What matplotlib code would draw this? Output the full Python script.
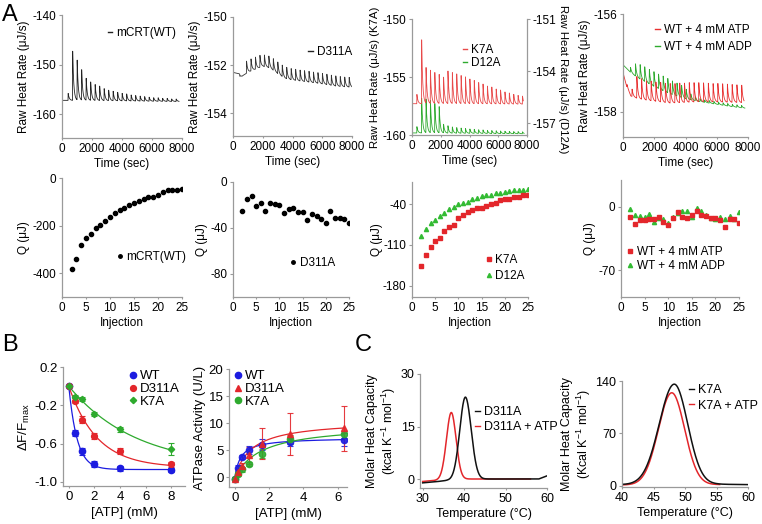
import numpy as np
import matplotlib
matplotlib.use("Agg")
import matplotlib.pyplot as plt
from matplotlib.lines import Line2D

plt.rcParams['font.family'] = ['Liberation Sans', 'DejaVu Sans']
plt.rcParams['mathtext.default'] = 'regular'
plt.rcParams['axes.unicode_minus'] = False

FIG_W, FIG_H = 762, 524

BLUE = '#1c1ce0'
RED = '#e3262b'
GREEN = '#2eaa2e'
SPINE = '#9a9a9a'

# ---------- Panel A, row 1: raw ITC traces ----------
WT_INJ_T = [400, 700, 1000, 1300, 1600, 1900, 2200, 2500, 2800, 3100, 3400, 3700, 4000,
            4300, 4600, 4900, 5200, 5500, 5800, 6100, 6400, 6700, 7000, 7300, 7600]
WT_PEAK_H = [1.4, 9.9, 8.0, 6.1, 4.4, 3.7, 3.2, 2.9, 2.4, 2.1, 1.9, 1.7, 1.5,
             1.4, 1.2, 1.1, 1.0, 0.9, 0.8, 0.7, 0.7, 0.6, 0.6, 0.5, 0.5]
WT_BASE_T = [0, 8000]
WT_BASE_V = [-157.2, -157.45]

D311A_INJ_T = [450, 900, 1200, 1500, 1800, 2100, 2400, 2700, 3000, 3300, 3600, 3900, 4200,
               4500, 4800, 5100, 5400, 5700, 6000, 6300, 6600, 6900, 7200, 7500, 7800]
D311A_PEAK_H = [-0.08, 0.5, 0.5, 0.5, 0.5, 0.48, 0.48, 0.48, 0.48, 0.47, 0.47, 0.46, 0.46,
                0.45, 0.45, 0.45, 0.44, 0.44, 0.43, 0.43, 0.42, 0.42, 0.41, 0.4, 0.4]
D311A_BASE_T = [0, 400, 600, 1000, 2000, 2500, 3000, 3500, 4000, 5000, 6000, 7000, 8000]
D311A_BASE_V = [-152.3, -152.35, -152.45, -152.3, -152.05, -152.12, -152.35, -152.55,
                -152.62, -152.7, -152.78, -152.88, -152.92]

K7A_INJ_T = [330, 660, 965, 1270, 1575, 1880, 2185, 2490, 2795, 3100, 3405, 3710, 4015,
             4320, 4625, 4930, 5235, 5540, 5845, 6150, 6455, 6760, 7065, 7370, 7675]
K7A_PEAK_H = [0.8, 5.5, 3.1, 2.85, 2.7, 2.5, 2.3, 2.8, 2.7, 2.55, 2.45, 2.3, 2.15,
              2.0, 1.85, 1.7, 1.55, 1.45, 1.3, 1.2, 1.05, 0.95, 0.85, 0.75, 0.7]
K7A_BASE_T = [0, 8000]
K7A_BASE_V = [-157.3, -157.35]

D12A_PEAK_H = [0.36, 2.0, 1.95, 1.85, 1.7, 1.5, 0.5, 0.42, 0.36, 0.32, 0.3, 0.27, 0.25,
               0.23, 0.21, 0.2, 0.18, 0.17, 0.16, 0.15, 0.14, 0.13, 0.12, 0.12, 0.11]
D12A_BASE_T = [0, 8000]
D12A_BASE_V = [-157.55, -157.6]

ATP_INJ_T = [250, 570, 875, 1180, 1485, 1790, 2095, 2400, 2705, 3010, 3315, 3620, 3925,
             4230, 4535, 4840, 5145, 5450, 5755, 6060, 6365, 6670, 6975, 7280, 7585]
ATP_PEAK_H = [0.05, 0.15, 0.45, 0.42, 0.4, 0.4, 0.4, 0.4, 0.4, 0.4, 0.4, 0.4, 0.4,
              0.4, 0.4, 0.39, 0.39, 0.38, 0.38, 0.38, 0.38, 0.37, 0.37, 0.36, 0.36]
ATP_BASE_T = [0, 200, 500, 1000, 1500, 3000, 5000, 7800]
ATP_BASE_V = [-157.2, -157.45, -157.68, -157.74, -157.77, -157.83, -157.8, -157.82]

ADP_INJ_T = [470, 790, 1085, 1380, 1675, 1970, 2265, 2560, 2855, 3150, 3445, 3740, 4035,
             4330, 4625, 4920, 5215, 5510, 5805, 6100, 6395, 6690, 6985, 7280, 7575]
ADP_PEAK_H = [0.1, 0.25, 0.3, 0.3, 0.3, 0.3, 0.3, 0.3, 0.3, 0.28, 0.27, 0.25, 0.2,
              0.12, 0.08, 0.06, 0.05, 0.05, 0.05, 0.05, 0.05, 0.05, 0.05, 0.05, 0.05]
ADP_BASE_T = [0, 500, 1000, 2000, 3000, 4000, 5000, 6000, 7000, 7800]
ADP_BASE_V = [-157.04, -157.2, -157.32, -157.49, -157.64, -157.74, -157.8, -157.85,
              -157.9, -157.93]

# ---------- Panel A, row 2: integrated heats ----------
INJ = list(range(2, 26))
Q_WT = [-382, -341, -281, -250, -234, -212, -197, -182, -164, -147, -136, -124,
        -112, -105, -97, -88, -81, -81, -73, -60, -49, -49, -52, -46]
Q_D311A = [-25.3, -14.5, -12.5, -21.2, -18.0, -25.3, -18.3, -19.5, -20.0, -26.7, -23.8, -22.4,
           -26.2, -26.2, -33.4, -27.6, -29.7, -32.6, -36.0, -25.3, -31.1, -31.4, -32.0, -36.0]
Q_K7A = [-147, -128, -113.4, -103, -97.4, -86, -78.4, -75.6, -64, -58.4, -53.8, -49.8,
         -45.7, -45.7, -42.3, -40, -37, -32.5, -30.2, -31.4, -26.8, -28, -23.4, -23.4]
Q_D12A = [-95, -83, -72, -66.4, -59.5, -55, -48.6, -44, -39.4, -38.3, -35.4, -31.4,
          -29.7, -25.7, -23.4, -23.4, -21, -21, -18.8, -17.6, -15.3, -15.3, -14.8, -13.6]
Q_ATP = [-11, -19, -14.7, -14.7, -14, -13.6, -11.8, -17.3, -20.3, -12.2, -6.3, -11,
         -12.9, -9.2, -4.4, -9.2, -9.9, -12.2, -12.9, -14.7, -22, -14, -14, -18.4]
Q_ADP = [-3, -9.2, -10, -11.8, -8.1, -16.6, -12.9, -14, -18, -11.8, -7, -4.4,
         -4.4, -11, -1.1, -4.8, -9, -12, -13, -11.8, -13.6, -10.3, -14, -5.5]

# ---------- Panel B: fluorescence quench and ATPase activity ----------
ATP_F = [0, 0.5, 1, 2, 4, 8]
DF_WT = [0, -0.487, -0.68, -0.81, -0.856, -0.873]
DF_WT_ERR = [0.01, 0.03, 0.035, 0.03, 0.025, 0.02]
DF_D311A = [0, -0.15, -0.348, -0.52, -0.678, -0.817]
DF_D311A_ERR = [0.01, 0.03, 0.035, 0.03, 0.03, 0.025]
DF_K7A = [0, -0.108, -0.136, -0.289, -0.452, -0.657]
DF_K7A_ERR = [0.01, 0.02, 0.02, 0.02, 0.03, 0.06]
# fitted single-exponential: amplitude, constant (mM)
DF_FIT = {'WT': (0.87, 0.65), 'D311A': (0.85, 2.2), 'K7A': (0.85, 5.2)}

ATP_A = [0, 0.2, 0.4, 0.8, 1.6, 3.2, 6.4]
ACT_WT = [-0.3, 1.7, 3.7, 4.97, 6.0, 6.5, 6.9]
ACT_WT_ERR = [0.3, 0.5, 0.4, 0.8, 1.0, 0.8, 1.2]
ACT_D311A = [-0.3, 0.93, 2.05, 4.0, 6.2, 8.0, 9.0]
ACT_D311A_ERR = [0.3, 0.5, 0.6, 1.5, 2.8, 3.9, 4.2]
ACT_K7A = [-0.3, 0.5, 1.43, 2.36, 4.35, 6.96, 7.9]
ACT_K7A_ERR = [0.3, 0.4, 0.5, 0.4, 0.8, 0.8, 0.6]
# Michaelis-Menten fits: Vmax (U/L), Km (mM)
ACT_FIT = {'WT': (7.3, 0.35), 'D311A': (10.5, 1.0), 'K7A': (9.8, 1.6)}

# ---------- Panel C: DSC ----------
# peak: Tm, height, sigma left, sigma right; baseline anchors; temperature range
DSC_D311A = dict(tm=40.3, h=23.6, sl=1.35, sr=1.4, bt=[30, 33, 36, 45, 58, 60],
                 bv=[-1.1, -0.8, -0.4, 0, 0, 0.9], rng=(30, 60))
DSC_D311A_ATP = dict(tm=36.9, h=19.0, sl=1.15, sr=1.15, bt=[30, 33, 35, 42, 56],
                     bv=[-0.7, -0.4, 0, 0, 0], rng=(30, 56))
DSC_K7A = dict(tm=48.3, h=134.0, sl=2.38, sr=2.12, bt=[40, 55, 60],
               bv=[1.5, 2.0, 1.5], rng=(40, 60))
DSC_K7A_ATP = dict(tm=47.9, h=123.0, sl=2.12, sr=2.04, bt=[40, 55.5],
                   bv=[1.0, 1.5], rng=(40, 55.5))


# ---------- helpers ----------

def add_ax(fig, x0, y0, x1, y1):
    return fig.add_axes([x0 / FIG_W, 1 - y1 / FIG_H, (x1 - x0) / FIG_W, (y1 - y0) / FIG_H])


def style(ax, fs):
    for s in ('top', 'right'):
        ax.spines[s].set_visible(False)
    for s in ('left', 'bottom'):
        ax.spines[s].set_color(SPINE)
        ax.spines[s].set_linewidth(0.9)
    ax.tick_params(axis='y', length=2.5, width=0.8, color=SPINE, labelsize=fs, pad=1.5)
    ax.tick_params(axis='x', length=1.5, width=0.8, color=SPINE, labelsize=fs, pad=2)


def itc_trace(t_end, inj_t, heights, base_t, base_v, tau=70.0):
    t = np.arange(0, t_end, 2.0)
    y = np.interp(t, base_t, base_v)
    for ti, h in zip(inj_t, heights):
        dt = t - ti
        rise = np.clip(dt / 12.0, 0, 1)
        y = y + h * rise * np.exp(-np.clip(dt - 12.0, 0, None) / tau) * (dt >= 0)
    return t, y


def dsc_curve(p):
    T = np.linspace(p['rng'][0], p['rng'][1], 400)
    sig = np.where(T < p['tm'], p['sl'], p['sr'])
    return T, np.interp(T, p['bt'], p['bv']) + p['h'] * np.exp(-0.5 * ((T - p['tm']) / sig) ** 2)


def line_legend(ax, labels, colors, x, y, fs, spacing=0.2):
    handles = [Line2D([0], [0], color=c, lw=1.0) for c in colors]
    ax.legend(handles, labels, loc='center left', bbox_to_anchor=(x, y), frameon=False,
              fontsize=fs, handlelength=0.4, handletextpad=0.35, borderpad=0,
              borderaxespad=0, labelspacing=spacing)


def marker_legend(ax, labels, colors, markers, sizes, x, y, fs, spacing=0.2):
    handles = [Line2D([0], [0], color=c, marker=m, ms=s, ls='none')
               for c, m, s in zip(colors, markers, sizes)]
    ax.legend(handles, labels, loc='center left', bbox_to_anchor=(x, y), frameon=False,
              fontsize=fs, handlelength=0.6, handletextpad=0.25, borderpad=0,
              borderaxespad=0, labelspacing=spacing, numpoints=1)


def main():
    fig = plt.figure(figsize=(FIG_W / 100, FIG_H / 100), dpi=100)
    fs = 8.5
    raw_label = 'Raw Heat Rate (\u03bcJ/s)'
    time_ticks = [0, 2000, 4000, 6000, 8000]

    # row 1
    ax = add_ax(fig, 62, 15, 182, 138)
    style(ax, fs)
    t, y = itc_trace(7800, WT_INJ_T, WT_PEAK_H, WT_BASE_T, WT_BASE_V)
    ax.plot(t, y, color='#222222', lw=0.6)
    ax.set_xlim(0, 8000)
    ax.set_ylim(-164.8, -140)
    ax.set_yticks([-140, -150, -160])
    ax.set_xticks(time_ticks)
    ax.set_ylabel(raw_label, fontsize=fs, labelpad=2)
    ax.set_xlabel('Time (sec)', fontsize=fs, labelpad=2)
    line_legend(ax, ['mCRT(WT)'], ['#222222'], 0.38, 0.854, fs)

    ax = add_ax(fig, 233, 17, 352, 136)
    style(ax, fs)
    t, y = itc_trace(8000, D311A_INJ_T, D311A_PEAK_H, D311A_BASE_T, D311A_BASE_V)
    ax.plot(t, y, color='#333333', lw=0.6)
    ax.set_xlim(0, 8000)
    ax.set_ylim(-154.94, -150)
    ax.set_yticks([-150, -152, -154])
    ax.set_xticks(time_ticks)
    ax.set_ylabel(raw_label, fontsize=fs, labelpad=2)
    ax.set_xlabel('Time (sec)', fontsize=fs, labelpad=2)
    line_legend(ax, ['D311A'], ['#222222'], 0.63, 0.706, fs)

    ax = add_ax(fig, 412, 19, 527, 135)
    style(ax, fs)
    axr = ax.twinx()
    for s in ('top', 'left', 'bottom'):
        axr.spines[s].set_visible(False)
    axr.spines['right'].set_color(SPINE)
    axr.spines['right'].set_linewidth(0.9)
    axr.tick_params(axis='y', length=2.5, width=0.8, color=SPINE, labelsize=fs, pad=1.5)
    t, y = itc_trace(7800, K7A_INJ_T, D12A_PEAK_H, D12A_BASE_T, D12A_BASE_V)
    axr.plot(t, y, color=GREEN, lw=0.6)
    t, y = itc_trace(7750, K7A_INJ_T, K7A_PEAK_H, K7A_BASE_T, K7A_BASE_V)
    ax.plot(t, y, color='#e84a4a', lw=0.6)
    ax.set_zorder(axr.get_zorder() + 1)
    ax.patch.set_visible(False)
    ax.set_xlim(0, 8000)
    ax.set_ylim(-160, -150)
    ax.set_yticks([-150, -155, -160])
    axr.set_ylim(-157.67, -151)
    axr.set_yticks([-151, -154, -157])
    ax.set_xticks(time_ticks)
    ax.set_ylabel(raw_label + ' (K7A)', fontsize=8.2, labelpad=2)
    fig.text(563 / FIG_W, 1 - 79 / FIG_H, raw_label + ' (D12A)', fontsize=8.2,
             rotation=-90, ha='center', va='center')
    ax.set_xlabel('Time (sec)', fontsize=fs, labelpad=2)
    line_legend(ax, ['K7A', 'D12A'], ['#e84a4a', GREEN], 0.44, 0.677, fs, spacing=0.12)

    ax = add_ax(fig, 623, 14, 748, 137)
    style(ax, fs)
    t, y = itc_trace(7800, ADP_INJ_T, ADP_PEAK_H, ADP_BASE_T, ADP_BASE_V)
    ax.plot(t, y, color=GREEN, lw=0.6)
    t, y = itc_trace(7750, ATP_INJ_T, ATP_PEAK_H, ATP_BASE_T, ATP_BASE_V)
    ax.plot(t, y, color='#e83030', lw=0.6)
    ax.set_xlim(0, 8000)
    ax.set_ylim(-158.52, -156)
    ax.set_yticks([-156, -158])
    ax.set_xticks(time_ticks)
    ax.set_ylabel(raw_label, fontsize=fs, labelpad=2)
    ax.set_xlabel('Time (sec)', fontsize=fs, labelpad=2)
    line_legend(ax, ['WT + 4 mM ATP', 'WT + 4 mM ADP'], ['#e83030', GREEN], 0.256, 0.80, fs,
                spacing=0.45)

    # row 2
    q_label = 'Q (\u03bcJ)'
    inj_ticks = [0, 5, 10, 15, 20, 25]

    ax = add_ax(fig, 62, 178, 182, 297)
    style(ax, fs)
    ax.plot(INJ, Q_WT, 'o', color='black', ms=3)
    ax.set_xlim(0, 25)
    ax.set_ylim(-499.7, 0)
    ax.set_yticks([0, -200, -400])
    ax.set_xticks(inj_ticks)
    ax.set_ylabel(q_label, fontsize=fs, labelpad=2)
    ax.set_xlabel('Injection', fontsize=fs, labelpad=2)
    marker_legend(ax, ['mCRT(WT)'], ['black'], ['o'], [2.5], 0.45, 0.336, fs)

    ax = add_ax(fig, 233, 182, 349, 297)
    style(ax, fs)
    ax.plot(INJ, Q_D311A, 'o', color='black', ms=3)
    ax.set_xlim(0, 25)
    ax.set_ylim(-100.4, 0)
    ax.set_yticks([0, -40, -80])
    ax.set_xticks(inj_ticks)
    ax.set_ylabel(q_label, fontsize=fs, labelpad=2)
    ax.set_xlabel('Injection', fontsize=fs, labelpad=2)
    marker_legend(ax, ['D311A'], ['black'], ['o'], [2.5], 0.49, 0.296, fs)

    ax = add_ax(fig, 412, 182, 528, 297)
    style(ax, fs)
    ax.plot(INJ, Q_D12A, '^', color='#33bb33', ms=3)
    ax.plot(INJ, Q_K7A, 's', color=RED, ms=3)
    ax.set_xlim(0, 25)
    ax.set_ylim(-199.5, -1.6)
    ax.set_yticks([-40, -110, -180])
    ax.set_xticks(inj_ticks)
    ax.set_ylabel(q_label, fontsize=fs, labelpad=0)
    ax.set_xlabel('Injection', fontsize=fs, labelpad=2)
    marker_legend(ax, ['K7A', 'D12A'], [RED, '#33bb33'], ['s', '^'], [3, 3], 0.63, 0.252, fs,
                  spacing=0.3)

    ax = add_ax(fig, 621, 180, 739, 297)
    style(ax, fs)
    ax.plot(INJ, Q_ADP, '^', color='#33bb33', ms=3)
    ax.plot(INJ, Q_ATP, 's', color=RED, ms=3)
    ax.set_xlim(0, 25)
    ax.set_ylim(-99.5, 29.5)
    ax.set_yticks([0, -70])
    ax.set_xticks(inj_ticks)
    ax.set_ylabel(q_label, fontsize=fs, labelpad=2)
    ax.set_xlabel('Injection', fontsize=fs, labelpad=2)
    marker_legend(ax, ['WT + 4 mM ATP', 'WT + 4 mM ADP'], [RED, '#33bb33'], ['s', '^'], [3, 3],
                  0.05, 0.325, fs, spacing=0.2)

    # panel B
    fsb = 9.5
    ax = add_ax(fig, 63, 367, 185, 486)
    style(ax, fsb)
    xs = np.linspace(0, 8, 200)
    sets = [('WT', DF_WT, DF_WT_ERR, BLUE, 'o', 4.5),
            ('D311A', DF_D311A, DF_D311A_ERR, RED, 'o', 4.2),
            ('K7A', DF_K7A, DF_K7A_ERR, GREEN, 'D', 3.2)]
    for name, vals, err, c, m, s in sets:
        amp, k = DF_FIT[name]
        ax.plot(xs, -amp * (1 - np.exp(-xs / k)), color=c, lw=0.9)
        ax.errorbar(ATP_F, vals, yerr=err, fmt=m, color=c, ms=s, capsize=2,
                    elinewidth=0.8, capthick=0.8)
    ax.set_xlim(-0.45, 9.06)
    ax.set_ylim(-1.042, 0.2)
    ax.set_yticks([0.2, -0.2, -0.6, -1.0])
    ax.set_yticklabels(['0.2', '-0.2', '-0.6', '-1.0'])
    ax.set_xticks([0, 2, 4, 6, 8])
    ax.set_ylabel('\u0394F/F$_{max}$', fontsize=fsb, labelpad=2)
    ax.set_xlabel('[ATP] (mM)', fontsize=fsb, labelpad=3)
    marker_legend(ax, ['WT', 'D311A', 'K7A'], [BLUE, RED, GREEN], ['o', 'o', 'D'],
                  [4.5, 4.2, 3.2], 0.54, 0.815, fsb, spacing=0.05)

    ax = add_ax(fig, 229, 369, 347, 487)
    style(ax, fsb)
    xs = np.linspace(0, 6.4, 200)
    sets = [('WT', ACT_WT, ACT_WT_ERR, BLUE, 'o', 4.5),
            ('K7A', ACT_K7A, ACT_K7A_ERR, GREEN, 'o', 4.5),
            ('D311A', ACT_D311A, ACT_D311A_ERR, RED, '^', 4.2)]
    for name, vals, err, c, m, s in sets:
        vmax, km = ACT_FIT[name]
        ax.plot(xs, vmax * xs / (km + xs), color=c, lw=0.9)
        ax.errorbar(ATP_A, vals, yerr=err, fmt=m, color=c, ms=s, capsize=2,
                    elinewidth=0.8, capthick=0.8, ecolor=c, alpha=0.9)
    ax.set_xlim(-0.35, 6.55)
    ax.set_ylim(-1.85, 20)
    ax.set_yticks([0, 5, 10, 15, 20])
    ax.set_xticks([0, 2, 4, 6])
    ax.set_ylabel('ATPase Activity (U/L)', fontsize=fsb, labelpad=2)
    ax.set_xlabel('[ATP] (mM)', fontsize=fsb, labelpad=3)
    marker_legend(ax, ['WT', 'D311A', 'K7A'], [BLUE, RED, GREEN], ['o', '^', 'o'],
                  [4.5, 4.2, 4.5], 0.04, 0.83, fsb, spacing=0.05)

    # panel C
    fsc = 9
    ax = add_ax(fig, 420, 374, 547, 488)
    style(ax, fsc)
    T, y = dsc_curve(DSC_D311A_ATP)
    ax.plot(T, y, color=RED, lw=1.1)
    T, y = dsc_curve(DSC_D311A)
    ax.plot(T, y, color='#111111', lw=1.1)
    ax.set_xlim(29.35, 60)
    ax.set_ylim(-2.57, 30)
    ax.set_yticks([0, 15, 30])
    ax.set_xticks([30, 40, 50, 60])
    ax.set_ylabel('Molar Heat Capacity\n(kcal K$^{-1}$ mol$^{-1}$)', fontsize=fsc,
                  labelpad=2, linespacing=1.1)
    ax.set_xlabel('Temperature (\u00b0C)', fontsize=fsc, labelpad=2)
    line_legend(ax, ['D311A', 'D311A + ATP'], ['#111111', RED], 0.43, 0.60, fsc, spacing=0.25)

    ax = add_ax(fig, 622, 381, 748, 487)
    style(ax, fsc)
    T, y = dsc_curve(DSC_K7A_ATP)
    ax.plot(T, y, color=RED, lw=1.1)
    T, y = dsc_curve(DSC_K7A)
    ax.plot(T, y, color='#111111', lw=1.1)
    ax.set_xlim(40, 60)
    ax.set_ylim(-1.7, 140)
    ax.set_yticks([0, 70, 140])
    ax.set_xticks([40, 45, 50, 55, 60])
    ax.set_ylabel('Molar Heat Capacity\n(Kcal K$^{-1}$ mol$^{-1}$)', fontsize=fsc,
                  labelpad=2, linespacing=1.1)
    ax.set_xlabel('Temperature (\u00b0C)', fontsize=fsc, labelpad=2)
    line_legend(ax, ['K7A', 'K7A + ATP'], ['#111111', RED], 0.53, 0.84, fsc, spacing=0.25)

    # panel letters
    fig.text(2 / FIG_W, 1 - 15 / FIG_H, 'A', fontsize=17, va='center', ha='left')
    fig.text(2 / FIG_W, 1 - 345 / FIG_H, 'B', fontsize=17, va='center', ha='left')
    fig.text(355 / FIG_W, 1 - 345 / FIG_H, 'C', fontsize=17, va='center', ha='left')

    fig.savefig('out.png', dpi=100)
    plt.close(fig)


if __name__ == "__main__":
    main()
